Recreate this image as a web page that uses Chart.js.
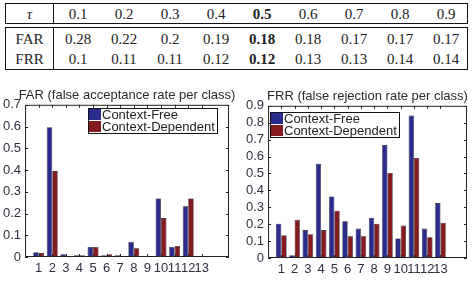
<!DOCTYPE html>
<html>
<head>
<meta charset="utf-8">
<script src="https://cdn.jsdelivr.net/npm/chart.js@4/dist/chart.umd.min.js"></script>
<style>
  html, body { margin: 0; padding: 0; background: #fff; }
  body { width: 473px; height: 284px; position: relative; overflow: hidden; }
  .box { position: absolute; left: 5px; width: 461px; border: 1.5px solid #111; }
  .row { position: absolute; left: 0; height: 20px; line-height: 20px; width: 100%;
         font-family: "Liberation Serif", "Times New Roman", serif; font-size: 15px; color: #222; }
  .row span { position: absolute; top: 0; text-align: center; }
  .divider { position: absolute; left: 47px; top: 0; bottom: 0; border-left: 1.5px solid #111; }
  canvas { position: absolute; }
  .title { position: absolute; text-align: center; white-space: nowrap;
           font-family: "Liberation Sans", Arial, sans-serif; font-size: 13px; color: #2a2a2a; line-height: 15px; }
  .legend { position: absolute; background: #fff; border: 1px solid #111;
            font-family: "Liberation Sans", Arial, sans-serif; font-size: 13px; color: #222; padding: 0 2px 0 0; }
  .legend div { height: 12px; line-height: 12px; white-space: nowrap; }
  .legend i { display: inline-block; width: 12px; height: 11px; vertical-align: top; margin: 0 1px 0 0; }
</style>
</head>
<body>
<div class="box" id="box1" style="top:3px;height:19px;"><div class="divider"></div></div>
<div class="box" id="box2" style="top:27px;height:41px;"><div class="divider"></div></div>
<canvas id="far" width="232" height="187" style="left:-1px;top:97px;"></canvas>
<canvas id="frr" width="227" height="187" style="left:242px;top:97px;"></canvas>
<script>
// overall rates for different thresholds
const tau = ['0.1', '0.2', '0.3', '0.4', '0.5', '0.6', '0.7', '0.8', '0.9'];
const farOverall = ['0.28', '0.22', '0.2', '0.19', '0.18', '0.18', '0.17', '0.17', '0.17'];
const frrOverall = ['0.1', '0.11', '0.11', '0.12', '0.12', '0.13', '0.13', '0.14', '0.14'];
const boldCol = 4;

// per class rates
const classes = [1, 2, 3, 4, 5, 6, 7, 8, 9, 10, 11, 12, 13];
const series = ['Context-Free', 'Context-Dependent'];
const colors = ['#2b2b8e', '#861b1f'];
const farFree = [0.022, 0.597, 0.013, 0.008, 0.046, 0.008, 0.008, 0.069, 0.004, 0.269, 0.046, 0.233, 0];
const farDep = [0.018, 0.395, 0.004, 0.008, 0.046, 0.013, 0.004, 0.040, 0.004, 0.179, 0.051, 0.269, 0];
const frrFree = [0.203, 0.017, 0.165, 0.557, 0.364, 0.217, 0.174, 0.238, 0.668, 0.116, 0.842, 0.174, 0.325];
const frrDep = [0.135, 0.226, 0.141, 0.165, 0.280, 0.128, 0.128, 0.203, 0.503, 0.192, 0.592, 0.122, 0.209];

// table
function tableRow(box, top, head, vals, italic) {
  const row = document.createElement('div');
  row.className = 'row';
  row.style.top = top + 'px';
  const h = document.createElement('span');
  h.textContent = head;
  h.style.left = '0px'; h.style.width = '47px';
  if (italic) h.style.fontStyle = 'italic';
  row.appendChild(h);
  vals.forEach((v, i) => {
    const s = document.createElement('span');
    s.textContent = v;
    s.style.left = (49 + i * 46) + 'px';
    s.style.width = '46px';
    if (i === boldCol) s.style.fontWeight = 'bold';
    row.appendChild(s);
  });
  document.getElementById(box).appendChild(row);
}
tableRow('box1', 0, 'τ', tau, true);
tableRow('box2', 1, 'FAR', farOverall);
tableRow('box2', 21, 'FRR', frrOverall);

Chart.defaults.font.family = '"Liberation Sans", Arial, sans-serif';
Chart.defaults.color = '#2e3140';

// matlab style box with inward ticks
const frame = {
  id: 'frame',
  afterDatasetsDraw(chart) {
    const { ctx, chartArea: a } = chart;
    const x = chart.scales.x, y = chart.scales.y;
    ctx.save();
    ctx.strokeStyle = '#222';
    ctx.lineWidth = 1;
    ctx.strokeRect(a.left + 0.5, a.top + 0.5, a.width - 1, a.height - 1);
    ctx.beginPath();
    for (const t of y.ticks) {
      const p = Math.round(y.getPixelForValue(t.value)) + 0.5;
      ctx.moveTo(a.left, p); ctx.lineTo(a.left + 3, p);
      ctx.moveTo(a.right, p); ctx.lineTo(a.right - 3, p);
    }
    for (const t of x.ticks) {
      const p = Math.round(x.getPixelForValue(t.value)) + 0.5;
      ctx.moveTo(p, a.bottom); ctx.lineTo(p, a.bottom - 3);
      ctx.moveTo(p, a.top); ctx.lineTo(p, a.top + 3);
    }
    ctx.stroke();
    ctx.restore();
  }
};

function makeChart(id, title, free, dep, ymax, plotTop, legendPos) {
  const canvas = document.getElementById(id);
  const chart = new Chart(canvas, {
    type: 'bar',
    data: {
      datasets: [free, dep].map((vals, k) => ({
        label: series[k],
        data: classes.map((c, i) => ({ x: c, y: vals[i] })),
        backgroundColor: colors[k],
        borderColor: '#151515',
        borderWidth: 0.6,
        categoryPercentage: 0.8,
        barPercentage: 1
      }))
    },
    options: {
      responsive: false,
      animation: false,
      layout: { padding: { top: 8, right: 2 } },
      plugins: {
        legend: { display: false },
        tooltip: { enabled: false },
        title: { display: false }
      },
      scales: {
        x: {
          type: 'linear', min: 0, max: 15, offset: false,
          grid: { display: false, drawTicks: false },
          border: { display: false },
          afterBuildTicks: s => { s.ticks = classes.map(v => ({ value: v })); },
          afterFit: s => { s.height = 23; },
          ticks: { autoSkip: false, maxRotation: 0, padding: 4, font: { size: 13 } }
        },
        y: {
          min: 0, max: ymax,
          grid: { display: false, drawTicks: false },
          border: { display: false },
          ticks: { stepSize: 0.1, autoSkip: false, padding: 4, font: { size: 13 } }
        }
      }
    },
    plugins: [frame]
  });

  // move the canvas so the plot's top edge lands where it is in the reference
  const a = chart.chartArea;
  const left = parseFloat(canvas.style.left);
  const top = plotTop - a.top;
  canvas.style.top = top + 'px';

  // title above the plot, centred on the chart area
  const t = document.createElement('div');
  t.className = 'title';
  t.textContent = title;
  t.style.left = (left + a.left - 20) + 'px';
  t.style.width = (a.right - a.left + 40) + 'px';
  t.style.top = (plotTop - 18) + 'px';
  document.body.appendChild(t);

  // legend box drawn inside the plot
  const leg = document.createElement('div');
  leg.className = 'legend';
  leg.style.left = legendPos[0] + 'px';
  leg.style.top = legendPos[1] + 'px';
  series.forEach((name, k) => {
    const item = document.createElement('div');
    const sw = document.createElement('i');
    sw.style.background = colors[k];
    item.appendChild(sw);
    item.appendChild(document.createTextNode(name));
    leg.appendChild(item);
  });
  document.body.appendChild(leg);
  return chart;
}

makeChart('far', 'FAR (false acceptance rate per class)', farFree, farDep, 0.7, 105, [88, 108]);
makeChart('frr', 'FRR (false rejection rate per class)', frrFree, frrDep, 0.9, 106, [270, 112]);
</script>
</body>
</html>
